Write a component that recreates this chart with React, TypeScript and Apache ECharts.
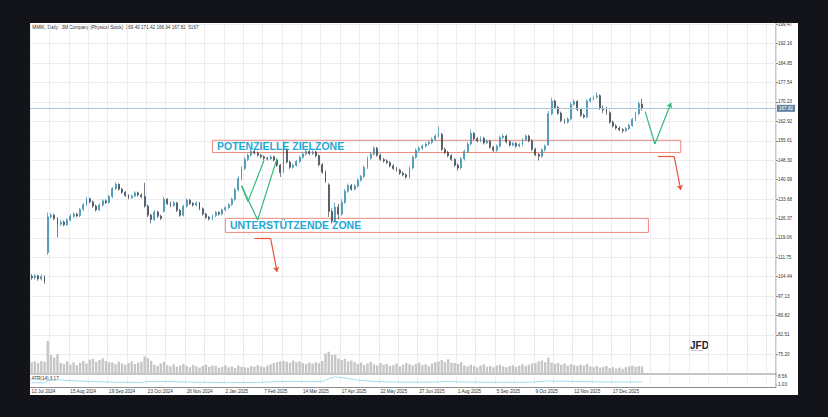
import React, { useEffect, useRef } from "react";
import * as echarts from "echarts";

// ---------- data ----------
const dateLabels = [
  "12 Jul 2024", "15 Aug 2024", "19 Sep 2024", "23 Oct 2024", "26 Nov 2024", "2 Jan 2025",
  "7 Feb 2025", "14 Mar 2025", "17 Apr 2025", "22 May 2025", "27 Jun 2025", "1 Aug 2025",
  "5 Sep 2025", "9 Oct 2025", "12 Nov 2025", "17 Dec 2025",
];
const BARS_PER_LABEL = 12;
const SLOT_COUNT = 231;

const priceMin = 75.2;
const priceMax = 199.47;
const priceStep = 7.31;
const atrMin = 1.03;
const atrMax = 8.56;
const lastPrice = 167.82;
const titleText = "MMM,, Daily:  3M Company (Physical Stock)  169.40 171.42 166.94 167.82  5167";
const atrText = "ATR(14) 3.17";

const opens = [
  104.6, 104.0, 104.8, 103.6, 104.5, 113.5, 127.0, 127.6, 126.3, 124.2,
  125.0, 124.0, 125.8, 127.2, 128.0, 127.4, 129.8, 131.6, 133.8, 132.6,
  131.0, 129.6, 131.4, 133.0, 132.4, 134.6, 137.6, 139.2, 137.4, 136.2,
  135.0, 134.2, 134.8, 136.0, 135.2, 134.6, 131.0, 127.6, 126.0, 128.8,
  127.2, 129.0, 133.6, 132.0, 131.2, 132.2, 129.4, 127.6, 131.0, 133.2,
  132.0, 131.4, 132.2, 130.0, 128.0, 126.8, 126.2, 127.4, 128.6, 128.0,
  129.6, 130.4, 131.6, 133.6, 137.2, 141.4, 145.2, 148.6, 150.2, 151.6,
  151.0, 150.2, 149.6, 149.0, 148.8, 149.6, 148.4, 146.4, 144.0, 152.0,
  147.6, 145.6, 146.4, 147.8, 149.4, 150.6, 151.6, 150.8, 151.4, 150.0,
  146.6, 143.8, 139.0, 129.0, 125.4, 130.6, 128.0, 132.4, 136.6, 138.8,
  137.4, 138.6, 140.8, 142.2, 145.6, 149.0, 150.6, 152.8, 150.2, 148.6,
  148.0, 147.4, 146.2, 145.2, 144.6, 143.4, 142.8, 142.0, 145.4, 149.4,
  152.0, 152.8, 153.6, 154.4, 155.0, 156.2, 157.4, 158.0, 152.4, 151.2,
  150.0, 148.6, 146.4, 145.4, 148.8, 151.6, 154.4, 158.4, 156.4, 155.6,
  156.6, 154.8, 155.4, 153.2, 152.0, 153.6, 156.8, 157.4, 155.2, 154.0,
  154.6, 153.6, 154.2, 156.0, 157.4, 155.6, 152.4, 150.4, 149.8, 152.2,
  154.0, 165.8, 170.6, 168.2, 166.0, 163.2, 162.6, 163.8, 169.4, 170.4,
  167.4, 165.2, 164.6, 170.6, 171.4, 172.0, 172.6, 167.8, 167.2, 166.2,
  162.6, 161.2, 160.4, 159.8, 159.4, 160.2, 161.4, 163.6, 165.8, 169.4,
];
const closes = [
  104.0, 104.8, 103.6, 104.5, 102.6, 127.0, 127.6, 126.3, 124.2, 125.0,
  124.0, 125.8, 127.2, 128.0, 127.4, 129.8, 131.6, 133.8, 132.6, 131.0,
  129.6, 131.4, 133.0, 132.4, 134.6, 137.6, 139.2, 137.4, 136.2, 135.0,
  134.2, 134.8, 136.0, 135.2, 134.6, 131.0, 127.6, 126.0, 128.8, 127.2,
  126.4, 133.6, 132.0, 131.2, 132.2, 129.4, 127.6, 131.0, 133.2, 132.0,
  131.4, 132.2, 130.0, 128.0, 126.8, 126.2, 127.4, 128.6, 128.0, 129.6,
  130.4, 131.6, 133.6, 137.2, 141.4, 145.2, 148.6, 150.2, 151.6, 151.0,
  150.2, 149.6, 149.0, 148.8, 149.6, 148.4, 146.4, 143.6, 152.0, 147.6,
  145.6, 146.4, 147.8, 149.4, 150.6, 151.6, 150.8, 151.4, 150.0, 146.6,
  143.8, 140.4, 129.0, 125.4, 130.6, 128.0, 132.4, 136.6, 138.8, 137.4,
  138.6, 140.8, 142.2, 145.6, 149.0, 150.6, 152.8, 150.2, 148.6, 148.0,
  147.4, 146.2, 145.2, 144.6, 143.4, 142.8, 142.0, 145.4, 149.4, 152.0,
  152.8, 153.6, 154.4, 155.0, 156.2, 157.4, 158.4, 152.4, 151.2, 150.0,
  148.6, 146.4, 145.4, 148.8, 151.6, 154.4, 158.4, 156.4, 155.6, 156.6,
  154.8, 155.4, 153.2, 152.0, 153.6, 156.8, 157.4, 155.2, 154.0, 154.6,
  153.6, 154.2, 156.0, 157.4, 155.6, 152.4, 150.4, 149.8, 152.2, 153.6,
  165.8, 170.6, 168.2, 166.0, 163.2, 162.6, 163.8, 169.4, 170.4, 167.4,
  165.2, 164.6, 170.6, 171.4, 172.0, 172.6, 167.8, 167.2, 166.2, 162.6,
  161.2, 160.4, 159.8, 159.4, 160.2, 161.4, 163.6, 165.8, 169.6, 167.82,
];
const highs = [
  105.4, 105.5, 105.2, 105.3, 104.9, 128.6, 128.4, 128.2, 126.8, 125.9,
  125.6, 126.4, 127.9, 128.7, 128.6, 130.3, 132.2, 134.4, 134.2, 133.1,
  131.6, 132.0, 133.6, 133.5, 135.2, 138.2, 140.0, 139.6, 137.9, 136.7,
  135.5, 135.4, 136.6, 136.5, 135.8, 139.8, 131.6, 128.1, 129.5, 129.3,
  127.8, 134.4, 134.0, 132.6, 132.9, 132.6, 129.9, 131.6, 133.9, 133.7,
  132.5, 132.8, 132.6, 130.5, 128.5, 127.3, 127.9, 129.2, 129.0, 130.1,
  131.0, 132.1, 134.2, 137.9, 142.2, 146.0, 149.4, 150.9, 152.3, 152.2,
  151.5, 150.7, 150.1, 149.6, 150.2, 150.0, 148.9, 146.9, 155.4, 152.6,
  148.1, 147.0, 148.4, 150.0, 151.2, 152.2, 152.1, 152.0, 151.9, 150.5,
  147.2, 144.4, 139.6, 130.2, 132.4, 131.8, 133.6, 137.4, 139.5, 139.3,
  139.2, 141.4, 142.8, 146.3, 149.7, 151.3, 153.6, 153.3, 150.8, 149.2,
  148.6, 147.9, 146.8, 145.8, 145.1, 144.0, 143.3, 146.0, 150.1, 152.7,
  153.4, 154.2, 155.0, 155.7, 156.9, 158.1, 161.0, 158.6, 153.0, 151.8,
  150.6, 149.1, 147.0, 149.5, 152.3, 155.1, 159.8, 158.9, 157.0, 157.3,
  157.1, 156.0, 155.9, 153.8, 154.2, 157.5, 158.1, 157.9, 155.8, 155.2,
  155.1, 154.8, 156.6, 158.0, 157.9, 156.1, 153.0, 151.0, 152.8, 154.2,
  166.8, 171.8, 171.1, 168.8, 166.6, 163.9, 164.5, 170.1, 171.2, 170.9,
  168.0, 165.8, 171.2, 172.0, 172.6, 173.8, 173.1, 168.9, 168.4, 166.8,
  163.2, 161.8, 161.0, 160.4, 160.8, 162.0, 164.2, 166.5, 170.3, 171.42,
];
const lows = [
  103.3, 103.4, 102.9, 103.0, 101.8, 112.6, 126.3, 125.7, 119.2, 123.6,
  123.4, 123.5, 125.2, 126.6, 126.8, 126.9, 129.2, 131.0, 132.0, 130.4,
  129.0, 129.1, 130.8, 131.8, 131.9, 134.0, 137.0, 136.8, 135.6, 134.4,
  133.6, 133.7, 134.2, 134.6, 134.0, 130.4, 126.9, 124.5, 125.4, 126.6,
  125.8, 128.6, 131.4, 130.6, 130.7, 128.8, 127.0, 127.1, 130.4, 131.4,
  130.8, 130.9, 129.4, 127.4, 126.2, 125.6, 125.7, 126.8, 127.4, 127.5,
  129.0, 129.8, 131.0, 133.0, 136.5, 140.7, 144.5, 148.0, 149.6, 150.4,
  149.6, 149.0, 148.4, 148.2, 148.3, 147.8, 145.8, 142.0, 143.4, 147.0,
  145.0, 145.1, 145.8, 147.2, 148.8, 150.0, 150.2, 150.3, 149.4, 146.0,
  143.2, 139.8, 127.0, 124.4, 124.8, 126.0, 127.4, 131.8, 136.0, 136.8,
  136.9, 138.0, 140.2, 141.6, 145.0, 148.4, 150.0, 149.6, 148.0, 147.4,
  146.8, 145.6, 144.6, 144.0, 142.8, 142.2, 141.3, 141.4, 144.8, 148.8,
  151.4, 152.2, 153.0, 153.8, 154.4, 155.6, 156.8, 151.8, 150.6, 149.4,
  148.0, 145.8, 144.4, 144.8, 148.2, 151.0, 153.8, 155.8, 155.0, 155.1,
  154.2, 154.3, 152.6, 151.4, 151.5, 153.0, 156.2, 154.6, 153.4, 153.5,
  153.0, 153.1, 153.6, 155.4, 155.0, 151.8, 149.8, 148.2, 149.2, 151.6,
  153.8, 165.2, 167.6, 165.4, 162.6, 162.0, 162.1, 163.2, 168.8, 166.8,
  164.6, 164.0, 164.1, 170.0, 170.8, 171.4, 167.2, 166.0, 165.4, 162.0,
  160.6, 159.8, 159.2, 158.6, 158.9, 159.6, 160.8, 163.0, 165.2, 166.94,
];
const volumes = [
  5.4, 5.8, 5.0, 6.0, 5.6, 15.6, 8.8, 7.6, 9.2, 5.0,
  4.6, 5.8, 4.2, 5.4, 4.0, 5.2, 6.0, 4.8, 6.6, 7.0,
  5.6, 6.4, 7.2, 6.0, 5.4, 5.2, 4.4, 5.6, 4.8, 4.2,
  5.0, 5.8, 4.6, 5.2, 5.6, 8.2, 7.4, 6.0, 4.2, 3.6,
  4.8, 5.6, 4.0, 3.4, 4.4, 3.2, 3.8, 4.6, 3.6, 3.0,
  4.0, 3.4, 2.8, 3.6, 4.2, 3.2, 3.8, 3.6, 2.8, 3.2,
  4.0, 3.0, 3.4, 2.6, 3.8, 3.2, 3.0, 2.8, 3.6, 3.2,
  4.0, 3.4, 3.0, 3.8, 4.4, 5.0, 5.4, 5.8, 6.0, 5.6,
  5.2, 6.2, 5.4, 5.8, 5.0, 4.6, 5.2, 4.8, 5.4, 5.0,
  6.0, 9.6, 10.4, 8.8, 9.0, 7.2, 6.4, 7.0, 5.8, 6.2,
  5.4, 4.6, 5.2, 4.0, 4.8, 5.6, 4.4, 3.8, 5.0, 4.2,
  4.6, 3.6, 4.0, 4.8, 3.4, 4.2, 5.0, 4.4, 3.8, 4.6,
  5.2, 4.0, 4.4, 3.6, 4.8, 5.4, 5.8, 6.4, 5.6, 6.8,
  5.2, 5.0, 4.6, 5.4, 3.8, 3.4, 4.2, 3.6, 3.0, 3.8,
  4.4, 3.2, 3.6, 3.0, 3.8, 4.2, 3.4, 3.0, 3.6, 4.0,
  3.2, 3.8, 4.4, 3.6, 4.2, 4.8, 5.0, 5.8, 6.2, 5.4,
  7.6, 5.2, 4.6, 5.0, 4.2, 4.8, 3.8, 4.4, 4.0, 3.6,
  4.2, 3.8, 4.6, 3.4, 3.0, 3.6, 2.8, 3.2, 3.6, 2.6,
  3.0, 2.4, 2.8, 2.2, 3.0, 3.4, 3.8, 3.2, 3.6, 3.4,
];
const atrPoints = [
  [0, 2.4], [4, 2.2], [5, 4.6], [8, 5.3], [12, 4.6], [18, 3.6], [25, 2.9], [34, 2.6],
  [36, 3.5], [42, 3.6], [50, 2.9], [60, 2.5], [70, 2.6], [76, 3.4], [80, 3.8], [86, 3.4],
  [90, 3.6], [92, 6.4], [94, 8.56], [97, 7.2], [101, 5.0], [106, 3.6], [115, 2.9], [126, 3.0],
  [128, 3.6], [134, 3.1], [145, 2.7], [155, 2.9], [160, 4.2], [166, 3.8], [174, 3.3],
  [182, 3.0], [189, 3.17],
];

// zones: [fromSlot, toSlot, lowPrice, highPrice]
const targetZone = [56, 201, 151.2, 155.8];
const supportZone = [60, 191, 121.1, 126.4];
const targetZoneName = "POTENZIELLE ZIELZONE";
const supportZoneName = "UNTERSTÜTZENDE ZONE";

// drawn scenario paths: [slot, price]
const greenPaths = [
  [[65, 138.7], [67, 132.7], [72, 148.4]],
  [[65, 138.7], [70, 125.8], [76, 149.0]],
];
const greenArrowPaths = [[[190, 166.6], [193, 154.4], [198, 169.9]]];
const redArrowPaths = [
  [[69, 118.9], [74, 118.9], [76, 106.2]],
  [[194, 149.6], [199, 149.6], [201, 137.1]],
];

const FONT = "'Liberation Sans', Arial, sans-serif";

export default function App() {
  const ref = useRef<HTMLDivElement>(null);

  useEffect(() => {
    document.body.style.margin = "0";
    const chart = echarts.init(ref.current!, undefined, { renderer: "svg" });

    const slots = Array.from({ length: SLOT_COUNT }, (_, i) => String(i));
    const candleData = closes.map((c, i) => [opens[i], c, lows[i], highs[i]]);
    const gridColor = "#e6e9ec";
    const small = 4.6;

    const xAxisBase = (gridIndex: number, extra: any = {}) => ({
      type: "category",
      gridIndex,
      data: slots,
      boundaryGap: true,
      axisLine: { show: false },
      axisTick: { show: false },
      axisLabel: { show: false },
      splitLine: {
        show: true,
        interval: (i: number) => i % 6 === 0,
        lineStyle: { color: gridColor, width: 0.8 },
      },
      ...extra,
    });

    const segments = (paths: number[][][], color: string, arrow: boolean) =>
      paths.flatMap((p) =>
        p.slice(1).map((pt, k) => [
          { coord: p[k], symbol: "none", lineStyle: { color, width: 1.2, type: "solid" } },
          {
            coord: pt,
            symbol: arrow && k === p.length - 2 ? "arrow" : "none",
            symbolSize: 5,
          },
        ])
      );

    const zoneLabel = {
      show: true,
      position: "insideLeft",
      distance: 5,
      color: "#1fa9d6",
      fontSize: 10.5,
      fontWeight: "bold",
      fontFamily: FONT,
    };

    chart.setOption({
      animation: false,
      backgroundColor: "#12141a",
      textStyle: { fontFamily: FONT },
      grid: [
        { left: 30, top: 24.3, width: 746, height: 330 },
        { left: 30, top: 340, width: 746, height: 33.5 },
        { left: 30, top: 376.7, width: 746, height: 7.3 },
      ],
      xAxis: [
        xAxisBase(0),
        xAxisBase(1),
        xAxisBase(2, {
          axisLabel: {
            show: true,
            interval: (i: number) => i % BARS_PER_LABEL === 0,
            formatter: (_v: string, i: number) => dateLabels[i / BARS_PER_LABEL] ?? "",
            align: "left",
            fontSize: small,
            color: "#333",
            margin: 5,
          },
        }),
      ],
      yAxis: [
        {
          type: "value",
          gridIndex: 0,
          position: "right",
          min: priceMin,
          max: priceMax,
          interval: priceStep,
          axisLine: { show: false },
          axisTick: { show: true, length: 2, lineStyle: { color: "#888" } },
          axisLabel: {
            fontSize: small,
            color: "#333",
            margin: 2,
            formatter: (v: number) => v.toFixed(2),
          },
          splitLine: { show: true, lineStyle: { color: gridColor, width: 0.8 } },
        },
        {
          type: "value",
          gridIndex: 1,
          min: 0,
          max: 16,
          show: false,
          splitLine: { show: false },
        },
        {
          type: "value",
          gridIndex: 2,
          position: "right",
          min: atrMin,
          max: atrMax,
          interval: atrMax - atrMin,
          axisLine: { show: false },
          axisTick: { show: false },
          axisLabel: {
            fontSize: small,
            color: "#333",
            margin: 2,
            formatter: (v: number) => v.toFixed(2),
          },
          splitLine: { show: false },
        },
      ],
      series: [
        {
          type: "candlestick",
          xAxisIndex: 0,
          yAxisIndex: 0,
          data: candleData,
          barWidth: 1.4,
          itemStyle: {
            color: "#3a8fb0",
            color0: "#3a4650",
            borderColor: "#3a8fb0",
            borderColor0: "#3a4650",
            borderWidth: 0.7,
          },
          markArea: {
            silent: true,
            itemStyle: { color: "rgba(0,0,0,0)", borderColor: "#ef8a80", borderWidth: 1 },
            label: zoneLabel,
            data: [
              [
                { name: targetZoneName, coord: [targetZone[0], targetZone[3]] },
                { coord: [targetZone[1], targetZone[2]] },
              ],
              [
                { name: supportZoneName, coord: [supportZone[0], supportZone[3]] },
                { coord: [supportZone[1], supportZone[2]] },
              ],
            ],
          },
          markLine: {
            silent: true,
            symbol: ["none", "none"],
            label: { show: false },
            data: [
              {
                yAxis: lastPrice,
                lineStyle: { color: "#a9c7d6", width: 1, type: "solid" },
                label: {
                  show: true,
                  position: "end",
                  formatter: lastPrice.toFixed(2),
                  backgroundColor: "#6384a6",
                  color: "#fff",
                  fontSize: small,
                  padding: [1, 2],
                  distance: 1,
                },
              },
              ...segments(greenPaths, "#33b97c", false),
              ...segments(greenArrowPaths, "#33b97c", true),
              ...segments(redArrowPaths, "#e8533a", true),
            ],
          },
        },
        {
          type: "bar",
          xAxisIndex: 1,
          yAxisIndex: 1,
          data: volumes,
          barWidth: 2.4,
          itemStyle: { color: "#c6c6c6" },
          silent: true,
        },
        {
          type: "line",
          xAxisIndex: 2,
          yAxisIndex: 2,
          data: atrPoints,
          showSymbol: false,
          lineStyle: { color: "#8fd4ea", width: 0.8 },
          silent: true,
        },
      ],
      graphic: [
        {
          type: "rect",
          z: -10,
          silent: true,
          shape: { x: 30, y: 23, width: 768, height: 372 },
          style: { fill: "#ffffff" },
        },
        {
          type: "text",
          x: 32.3,
          y: 27,
          style: { text: titleText, fontSize: small, fill: "#333", verticalAlign: "middle", fontFamily: FONT },
        },
        {
          type: "text",
          x: 31.5,
          y: 378.3,
          style: { text: atrText, fontSize: small, fill: "#333", verticalAlign: "middle", fontFamily: FONT },
        },
        {
          type: "line",
          shape: { x1: 30, y1: 374, x2: 776, y2: 374 },
          style: { stroke: "#8c8c8c", lineWidth: 1 },
        },
        {
          type: "line",
          shape: { x1: 30, y1: 387.5, x2: 776, y2: 387.5 },
          style: { stroke: "#8c8c8c", lineWidth: 1 },
        },
        {
          type: "line",
          shape: { x1: 776, y1: 23, x2: 776, y2: 387.5 },
          style: { stroke: "#8c8c8c", lineWidth: 1 },
        },
        {
          type: "text",
          x: 690,
          y: 345,
          style: { text: "JFD", fontSize: 10, fontWeight: "bold", fill: "#1b2233", verticalAlign: "middle", fontFamily: FONT },
        },
        {
          type: "text",
          x: 691.5,
          y: 350.5,
          style: { text: "BROKERS", fontSize: 2.4, fill: "#777", verticalAlign: "middle", fontFamily: FONT },
        },
      ],
    });

    return () => chart.dispose();
  }, []);

  return <div ref={ref} style={{ width: 828, height: 417 }} />;
}
